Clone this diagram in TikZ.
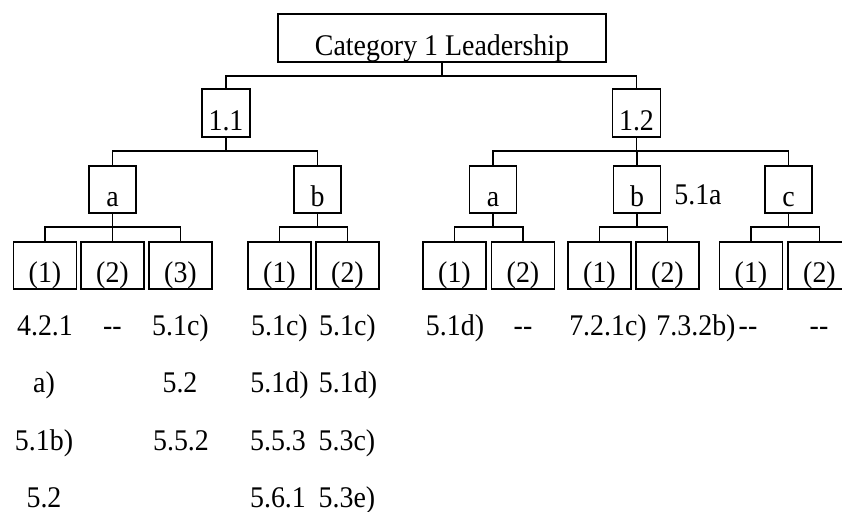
\documentclass[tikz,border=0pt]{standalone}
\usepackage{fontspec}
\setmainfont{Liberation Serif}[FakeStretch=0.93]
\begin{document}
\begin{tikzpicture}[x=0.5pt,y=-0.5pt,
        font=\fontsize{15}{17}\selectfont,
        box/.style={draw,line width=0.8pt,inner sep=0pt,text depth=3pt},
        topbox/.style={box,minimum width=164pt,text height=21pt},
        secbox/.style={box,minimum width=24pt,text height=21pt},
        subbox/.style={box,minimum width=23.5pt,text height=20.5pt},
        itembox/.style={box,minimum width=31.5pt,text height=20.5pt},
        link/.style={line width=0.8pt},
        ref/.style={anchor=base,inner sep=0pt}]
        \clip (0,0) rectangle (842,512);
        % tree
        \node[topbox] (cat) at (442,38) {Category 1 Leadership};
        \node[secbox] (n11) at (226,113) {1.1};
        \node[secbox] (n12) at (636.5,113) {1.2};
        \node[subbox] (la) at (112.5,189.5) {a};
        \node[subbox] (lb) at (317.5,189.5) {b};
        \node[subbox] (ra) at (493,189.5) {a};
        \node[subbox] (rb) at (637,189.5) {b};
        \node[subbox] (rc) at (788.5,189.5) {c};
        \node[itembox] (la1) at (45,265.5) {(1)};
        \node[itembox] (la2) at (112.5,265.5) {(2)};
        \node[itembox] (la3) at (180.5,265.5) {(3)};
        \node[itembox] (lb1) at (279.5,265.5) {(1)};
        \node[itembox] (lb2) at (347.5,265.5) {(2)};
        \node[itembox] (ra1) at (454.5,265.5) {(1)};
        \node[itembox] (ra2) at (523,265.5) {(2)};
        \node[itembox] (rb1) at (599.5,265.5) {(1)};
        \node[itembox] (rb2) at (667.5,265.5) {(2)};
        \node[itembox] (rc1) at (751,265.5) {(1)};
        \node[itembox] (rc2) at (819.5,265.5) {(2)};
        \node[ref] (rbnote) at (698,205) {5.1a};
        \foreach \p/\c in {cat/n11,cat/n12,n11/la,n11/lb,n12/ra,n12/rb,n12/rc,
                la/la1,la/la2,la/la3,lb/lb1,lb/lb2,ra/ra1,ra/ra2,rb/rb1,rb/rb2,rc/rc1,rc/rc2}
            \draw[link] (\p.south) -- ++(0,13) -| (\c.north);
        % references below the boxes
        \node[ref] (r1a) at (45,336) {4.2.1};
        \node[ref] (r1b) at (112.5,336) {-{}-};
        \node[ref] (r1c) at (180.5,336) {5.1c)};
        \node[ref] (r1d) at (279.5,336) {5.1c)};
        \node[ref] (r1e) at (347.5,336) {5.1c)};
        \node[ref] (r1f) at (455,336) {5.1d)};
        \node[ref] (r1g) at (523,336) {-{}-};
        \node[ref] (r1h) at (608,336) {7.2.1c)};
        \node[ref] (r1i) at (696,336) {7.3.2b)};
        \node[ref] (r1j) at (748,336) {-{}-};
        \node[ref] (r1k) at (819,336) {-{}-};
        \node[ref] (r2a) at (44,393) {a)};
        \node[ref] (r2c) at (180,393) {5.2};
        \node[ref] (r2d) at (279.5,393) {5.1d)};
        \node[ref] (r2e) at (348,393) {5.1d)};
        \node[ref] (r3a) at (44,451) {5.1b)};
        \node[ref] (r3c) at (181,451) {5.5.2};
        \node[ref] (r3d) at (278,451) {5.5.3};
        \node[ref] (r3e) at (347,451) {5.3c)};
        \node[ref] (r4a) at (44,508) {5.2};
        \node[ref] (r4d) at (278,508) {5.6.1};
        \node[ref] (r4e) at (347,508) {5.3e)};
    \end{tikzpicture}
\end{document}
